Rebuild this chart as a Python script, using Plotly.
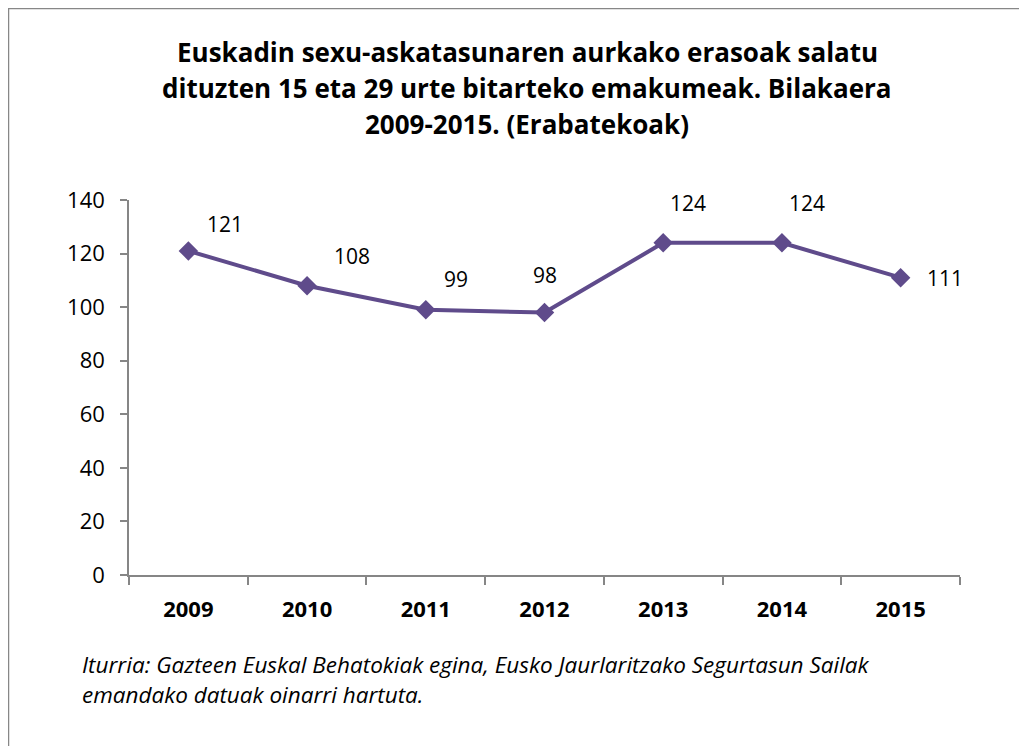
import plotly.graph_objects as go

years = ["2009", "2010", "2011", "2012", "2013", "2014", "2015"]
values = [121, 108, 99, 98, 124, 124, 111]
y_ticks = [0, 20, 40, 60, 80, 100, 120, 140]

title_lines = [
    "Euskadin sexu-askatasunaren aurkako erasoak salatu",
    "dituzten 15 eta 29 urte bitarteko emakumeak. Bilakaera",
    "2009-2015. (Erabatekoak)",
]
caption_lines = [
    "Iturria: Gazteen Euskal Behatokiak egina, Eusko Jaurlaritzako Segurtasun Sailak",
    "emandako datuak oinarri hartuta.",
]

# label offsets (pixels) mimicking manual Excel label placement
label_dx = [37, 45, 30, 0, 25, 25, 44]
label_dy = [27, 30, 31, 38, 40, 40, 0]

W, H = 1027, 746
OFF = 8  # page body margin offset
L, T = 129 - OFF, 200 - OFF
R = W - (960 - OFF)
B = H - (575 - OFF)
pw, ph = W - L - R, H - T - B

FONT = "Open Sans"
LINE = "#5F4B8B"
AX = "#868686"

fig = go.Figure()
fig.add_trace(go.Scatter(
    x=years, y=values, mode="lines+markers",
    line=dict(color=LINE, width=4),
    marker=dict(symbol="diamond", size=15, color=LINE),
    hoverinfo="x+y", showlegend=False,
))

for i, (v, dx, dy) in enumerate(zip(values, label_dx, label_dy)):
    fig.add_annotation(x=i, y=v, xref="x", yref="y", text=str(v), showarrow=False,
                       xshift=dx, yshift=dy,
                       font=dict(family=FONT, size=21, color="#000000"))

def py(pix):
    return (H - B - (pix - OFF)) / ph

def px(pix):
    return ((pix - OFF) - L) / pw

title_y = [52, 88, 124]
for line, yy in zip(title_lines, title_y):
    fig.add_annotation(xref="paper", yref="paper", x=px(527), y=py(yy),
                       text="<b>" + line + "</b>", showarrow=False,
                       xanchor="center", yanchor="middle",
                       font=dict(family=FONT, size=26, color="#000000"))

cap_y = [664, 694]
for line, yy in zip(caption_lines, cap_y):
    fig.add_annotation(xref="paper", yref="paper", x=px(80), y=py(yy),
                       text="<i>" + line + "</i>", showarrow=False,
                       xanchor="left", yanchor="middle",
                       font=dict(family=FONT, size=22.5, color="#000000"))

fig.add_shape(type="rect", xref="paper", yref="paper",
              x0=px(8.5), x1=px(1045), y0=py(8.5), y1=py(770),
              line=dict(color="#878787", width=1.5), fillcolor="rgba(0,0,0,0)")

fig.update_layout(
    width=W, height=H,
    margin=dict(l=L, r=R, t=T, b=B, autoexpand=False),
    paper_bgcolor="white", plot_bgcolor="white",
    font=dict(family=FONT, size=18, color="#000000"),
)
fig.update_xaxes(
    type="category", categoryorder="array", categoryarray=years,
    range=[-0.5, 6.5], showgrid=False, zeroline=False,
    showline=True, linecolor=AX, linewidth=1.5,
    ticks="outside", tickson="boundaries", ticklen=8, tickcolor=AX, tickwidth=1.5,
    tickfont=dict(family=FONT, size=22, color="#000000", weight="bold"),
    ticklabelstandoff=14,
)
fig.update_yaxes(
    range=[0, 140], tickvals=y_ticks, showgrid=False, zeroline=False,
    showline=True, linecolor=AX, linewidth=1.5,
    ticks="outside", ticklen=7, tickcolor=AX, tickwidth=1.5,
    tickfont=dict(family=FONT, size=22, color="#000000"),
    ticklabelstandoff=11,
)

fig.write_html("out.html")
